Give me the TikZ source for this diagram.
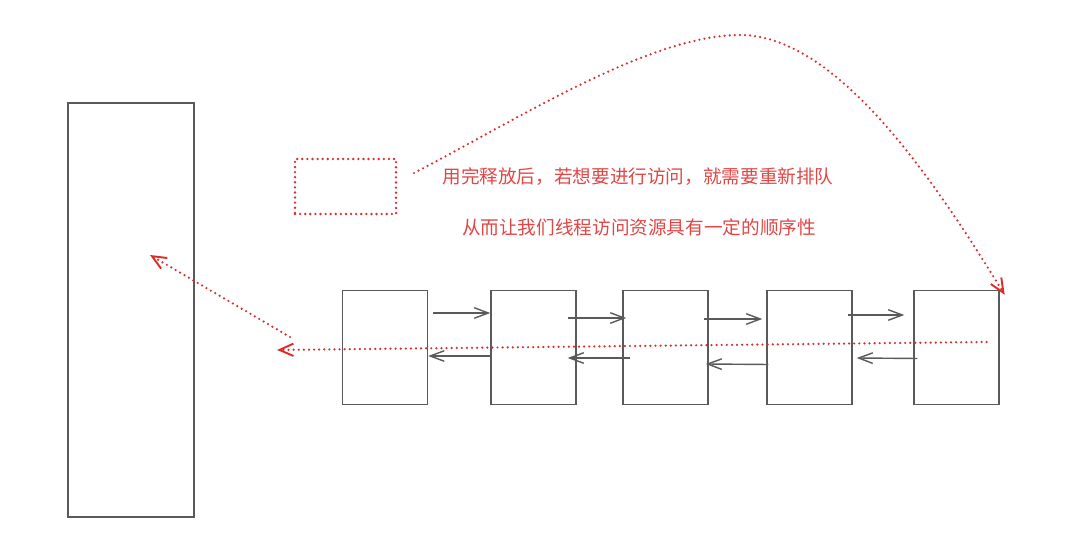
\documentclass[tikz,border=0pt]{standalone}
\usepackage{fontspec}
\newfontfamily\cjk{Noto Sans CJK SC}
\usetikzlibrary{arrows.meta}
\definecolor{lockred}{RGB}{220,45,45}
\definecolor{notered}{RGB}{225,70,70}
\definecolor{pengray}{RGB}{90,90,90}
\tikzset{
  slot/.style={draw=pengray, thick, minimum width=1.7cm, minimum height=2.28cm, inner sep=0pt},
  link/.style={pengray, thick, -{Straight Barb[length=8pt,width=6pt]}},
  wait/.style={lockred, line width=1.4pt, dash pattern=on 0pt off 2.9pt, line cap=round,
               -{Straight Barb[length=8pt,width=7pt,line width=1.1pt]}},
  note/.style={text=notered, font=\cjk\fontsize{10.6pt}{12pt}\selectfont},
}
\begin{document}
\begin{tikzpicture}
    \useasboundingbox (0, 0) rectangle (21.64, 10.8);

    % Resource
    \node [draw=pengray, thick, minimum width=2.52cm, minimum height=8.28cm] (res) at (2.62, 4.6) {};

    % Released lock
    \node [draw=lockred, line width=1.5pt, dash pattern=on 0pt off 2.9pt, line cap=round,
           minimum width=2.02cm, minimum height=1.1cm] (lock) at (6.91, 7.07) {};

    % Waiting threads
    \node [slot] (t1) at (7.7, 3.85) {};
    \node [slot] (t2) at (10.67, 3.85) {};
    \node [slot] (t3) at (13.31, 3.85) {};
    \node [slot] (t4) at (16.19, 3.85) {};
    \node [slot] (t5) at (19.13, 3.85) {};

    % Next pointers
    \draw [link] ([shift={(0.1,0.69)}]t1.east) -- ([yshift=0.69cm]t2.west);
    \draw [link] ([shift={(-0.18,0.59)}]t2.east) -- ([shift={(0.08,0.59)}]t3.west);
    \draw [link] ([shift={(-0.1,0.57)}]t3.east) -- ([shift={(-0.08,0.57)}]t4.west);
    \draw [link] ([shift={(-0.1,0.65)}]t4.east) -- ([shift={(-0.18,0.65)}]t5.west);

    % Prev pointers
    \draw [link] ([yshift=-0.17cm]t2.west) -- ([yshift=-0.17cm]t1.east);
    \draw [link] ([shift={(0.16,-0.21)}]t3.west) -- ([shift={(-0.18,-0.21)}]t2.east);
    \draw [link] ([shift={(0.04,-0.34)}]t4.west) -- ([shift={(-0.06,-0.33)}]t3.east);
    \draw [link] ([shift={(0.08,-0.22)}]t5.west) -- ([shift={(0.08,-0.21)}]t4.east);

    % Queue moves forward
    \coordinate (head) at (5.54, 3.8);
    \coordinate (turn) at (5.8, 4.06);
    \coordinate (grab) at (3.0, 5.7);
    \draw [wait] ([shift={(-0.26,0.11)}]t5.east) -- (head);
    \draw [wait] (turn) -- (grab);

    % Back to the tail
    \coordinate (hook) at (8.28, 7.34);
    \coordinate (top) at (14.8, 10.1);
    \draw [wait] (hook) .. controls (10.4, 8.44) and (13.0, 10.1) .. (top)
          .. controls (16.8, 10.1) and (18.8, 7.0) .. ([shift={(0.1,-0.1)}]t5.north east);

    % Notes
    \node [note] (line1) at (12.76, 7.26) {用完释放后，若想要进行访问，就需要重新排队};
    \node [note] (line2) at (12.78, 6.26) {从而让我们线程访问资源具有一定的顺序性};
\end{tikzpicture}
\end{document}
